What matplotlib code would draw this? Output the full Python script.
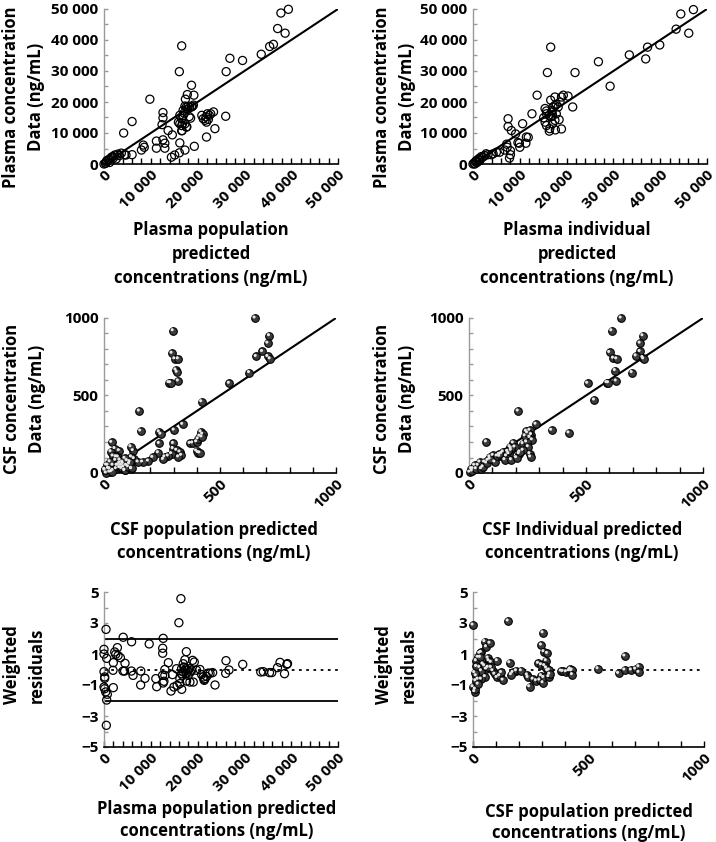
import matplotlib
matplotlib.use("Agg")
import matplotlib.pyplot as plt
from matplotlib.ticker import MultipleLocator, FixedLocator, FuncFormatter
from matplotlib.transforms import offset_copy

plt.rcParams['font.family'] = ['Open Sans', 'DejaVu Sans']
plt.rcParams['font.weight'] = 'bold'

# plasma: population predicted vs observed
pl_pred = [39400, 37800, 37100, 38700, 36200, 35400, 33600, 29600, 26900, 26100, 26000, 23700, 21900, 19300,
           16600, 16100, 18700, 19200, 17800, 17400, 9800, 6000, 4200, 12600, 12600, 12400, 13700, 14600,
           11200, 11200, 12600, 13000, 13000, 16200, 17300, 16100, 15100, 14400, 8600, 8000, 6000, 8400, 4700,
           16200, 16600, 16900, 17300, 17600, 18000, 18300, 18700, 18900, 17300, 17600, 16700, 16600, 18500,
           15900, 16200, 16900, 17100, 17800, 19100, 18200, 16800, 16600, 17700,
           20900, 21600, 21800, 22100, 22500, 22800, 23400, 21200, 21900, 22300,
           0, 400, 500, 900, 1200, 1600, 1900, 2300, 3000, 3700, 4400, 2600, 1200, 600, 300, 2000, 3300]
pl_obs = [49900, 48700, 43700, 42200, 38600, 37900, 35400, 33400, 34100, 29800, 15400, 11400, 8700, 5700,
          38100, 29800, 25400, 22200, 22400, 20900, 20900, 13700, 10000, 16600, 14900, 12700, 10800, 9400,
          7400, 5100, 7800, 6700, 5100, 6800, 4500, 3600, 2900, 2200, 5400, 4500, 3000, 6100, 2900,
          15700, 14600, 17300, 18700, 18400, 18600, 18200, 18400, 18600, 13000, 11900, 10800, 12400, 14800,
          13500, 13000, 15700, 16400, 17600, 19000, 15300, 13100, 10700, 12000,
          15700, 14100, 15200, 16200, 15700, 16200, 16800, 14600, 13500, 14400,
          0, 300, 700, 1300, 1600, 2200, 2400, 2900, 3200, 3500, 3000, 1600, 500, 1100, 200, 1900, 2700]

# plasma: individual predicted vs observed
pi_pred = [47100, 44400, 43400, 46100, 39900, 37300, 36900, 33400, 29300, 26800, 21800, 21300, 16600, 15900,
           13700, 12600, 10600, 7500, 7500, 8200, 9100, 9900, 11400, 11300, 10000, 8000, 8000, 7800, 7300,
           7200, 11800, 9600, 6800,
           15400, 15700, 16300, 16600, 16900, 17100, 17500, 17800, 18200, 18600, 18900, 19300, 17500, 16600,
           17500, 17000, 16400, 15700, 16300, 17600, 18400, 15100, 15400, 15700, 17000, 16900, 17800, 18900,
           20300, 16700,
           0, 200, 500, 700, 1100, 1400, 1800, 2500, 3200, 3900, 5000, 5700, 4300, 2100, 900, 400, 1500, 2800]
pi_obs = [49800, 48400, 43500, 42200, 38400, 37700, 33900, 35200, 25100, 33000, 29500, 18400, 37700, 29500,
          22200, 16200, 13000, 14600, 12100, 10800, 9700, 6700, 8700, 6700, 5400, 4300, 3000, 1900, 5400,
          6400, 8600, 6900, 4500,
          17900, 17100, 15700, 15200, 17300, 18400, 18900, 19200, 18400, 20000, 21600, 22200, 21600, 20600,
          14100, 13000, 11400, 12400, 10600, 11000, 14300, 14900, 13500, 16200, 15700, 16800, 16200, 11300,
          21900, 15300,
          0, 300, 700, 1100, 1500, 1900, 2400, 2700, 3000, 3000, 3800, 3800, 3300, 2200, 500, 0, 1200, 3300]

# CSF: population predicted vs observed
cp_pred = [651, 713, 706, 683, 656, 706, 716, 627, 540, 421, 298, 293, 305, 320, 310, 315, 320, 280, 287,
           152, 158, 238, 238, 234, 245, 302, 339, 299, 298, 313, 291, 277, 262, 256, 327, 334, 321,
           371, 382, 399, 406, 413, 418, 425, 422, 399, 406, 413, 210, 191, 166, 147, 130, 126, 116, 118,
           118, 89, 97, 68, 66, 47, 33, 30, 39, 61, 50, 56, 39, 17, 3, 25, 10, 39, 53, 68, 75, 25, 80,
           100, 110, 85, 11, 19, 4, 33, 62, 76, 90, 69, 52, 26, 83, 105, 119, 112, 90]
cp_obs = [1000, 886, 838, 784, 752, 752, 737, 648, 579, 460, 918, 773, 737, 737, 665, 650, 594, 583, 583,
          400, 271, 266, 191, 131, 251, 277, 314, 191, 158, 147, 125, 110, 104, 88, 136, 114, 104,
          191, 194, 201, 220, 238, 266, 251, 233, 142, 132, 130, 101, 77, 71, 71, 93, 144, 170, 104,
          28, 17, 50, 65, 144, 158, 198, 138, 110, 104, 82, 50, 50, 50, 24, 6, 0, 17, 28, 35, 50, 28, 70,
          80, 60, 40, 52, 30, 19, 9, 52, 30, 19, 84, 105, 73, 62, 41, 30, 73, 95]

# CSF: individual predicted vs observed
ci_pred = [650, 610, 743, 731, 601, 731, 714, 617, 631, 743, 746, 625, 697, 589, 596, 629, 507, 536, 353,
           427, 210, 74, 286, 260, 267, 260, 270, 231, 246, 253, 260, 263, 231, 214, 189, 196, 181, 170,
           160, 146, 139, 131, 153, 181, 203, 217, 103, 89, 81, 110, 67, 46, 39, 24, 17, 10, 3, 14, 31, 53,
           60, 75, 90, 120, 130, 175, 180, 165, 240, 245, 250]
ci_obs = [1000, 918, 886, 838, 778, 784, 756, 741, 737, 745, 737, 661, 648, 583, 583, 594, 579, 471, 276,
          259, 400, 201, 315, 276, 248, 230, 214, 190, 201, 170, 125, 104, 147, 125, 194, 168, 147, 125,
          110, 136, 125, 108, 86, 86, 99, 136, 114, 104, 82, 71, 71, 71, 50, 50, 28, 28, 6, 13, 28, 28,
          40, 65, 90, 110, 120, 170, 160, 140, 240, 270, 260]

# weighted residuals, plasma
wp_pred = [16430, 16000, 430, 4100, 12650, 5890, 9660, 2860, 0, 12540, 12540, 17600, 2290, 2500, 3000, 0,
           570, 3500, 1990, 4490, 1930, 4400, 4070, 5860, 6210, 7860, 8760, 7830, 11070, 11260, 12640, 12800,
           13000, 12500, 13000, 13750, 14640, 14320, 14930, 15640, 15500,
           16210, 16570, 16790, 16930, 17070, 17290, 17500, 17640, 17790, 18000, 18200, 18500, 18700, 17290,
           16930, 16570, 16210, 16600, 17640, 18360, 19070, 18930, 19290, 19790,
           20500, 20860, 21210, 21360, 21570, 21930, 22290, 22650, 23210, 21430, 23720, 26070, 26000, 26710,
           29640, 33500, 34050, 35360, 35840, 37070, 37610, 38570, 39210, 39070,
           0, 140, 0, 140, 360, 710, 570, 1990, 500, 140]
wp_res = [4.57, 3.02, 2.59, 2.08, 2.01, 1.79, 1.65, 1.41, 1.30, 1.37, 1.05, 1.15, 1.13, 0.98, 0.90, 1.0,
          0.72, 0.76, 0.44, 0.40, -0.05, -0.10, -0.10, -0.10, -0.38, -0.10, -0.57, -1.0, -0.59, -1.11, -0.87,
          -0.76, -0.38, -0.38, 0.0, 0.44, -0.33, -1.39, -1.13, -1.02, 0.05,
          -0.59, -0.27, -0.38, -0.16, 0.16, -0.05, 0.05, -0.23, -0.05, -0.38, 0.05, -0.16, -0.05, 0.63,
          0.37, 0.05, -0.91, -1.28, -0.75, -0.81, -0.81, 0.59, 0.48, -0.05,
          0.0, -0.33, -0.48, -0.63, -0.59, -0.45, -0.23, -0.25, -0.20, -0.70, -1.0, 0.57, -0.25, -0.03,
          0.33, -0.16, -0.14, -0.20, -0.20, 0.12, 0.46, -0.27, 0.38, 0.33,
          -0.14, -0.57, -1.13, -1.24, -1.45, -1.60, -1.97, -1.17, -3.60, -0.48]

# weighted residuals, CSF
wc_pred = [0, 152, 303, 296, 307, 322, 51, 58, 73, 36, 29, 22, 14, 32, 65, 69, 79, 105, 159, 317, 283,
           296, 310, 318, 323, 330, 541, 657, 630, 657, 685, 704, 718, 718, 382, 390, 404, 416, 421, 426,
           429, 430, 188, 209, 173, 166, 235, 238, 245, 260, 274, 289, 303, 296, 306, 328, 332, 86, 94, 104,
           115, 130, 123, 79, 53, 36, 22, 14, 12, 0, 7, 10, 22, 29, 43, 58, 36, 50, 65, 7, 15]
wc_res = [2.87, 3.13, 2.37, 1.58, 1.15, 1.04, 1.80, 1.47, 1.70, 1.11, 1.05, 0.79, 0.57, 0.79, 0.74, 0.57,
          0.47, 0.57, 0.44, 0.57, 0.40, 0.31, 0.25, 0.10, -0.08, -0.03, 0.05, 0.87, -0.25, -0.03, -0.03,
          0.03, 0.18, -0.18, -0.10, -0.12, -0.14, -0.08, 0.03, -0.08, -0.03, -0.33, -0.08, -0.08, -0.19,
          -0.33, -0.35, -0.51, -1.11, -0.62, -0.72, -0.68, -0.85, -0.40, -0.51, -0.46, -0.30, -0.08, -0.30,
          -0.51, -0.40, -0.68, -0.19, 0.14, -0.46, -0.62, -0.62, -0.40, -0.72, -1.11, -1.43, -1.26, -0.94,
          0.14, 0.36, 0.03, -0.08, 0.25, 0.14, -0.2, 0.2]


fig = plt.figure(figsize=(7.16, 8.42), dpi=100)
W, H = 716.0, 842.0


def make_axes(left, top, right, bottom):
	return fig.add_axes([left / W, 1 - bottom / H, (right - left) / W, (bottom - top) / H])


def thousands(v, pos):
	v = int(round(v))
	s = str(abs(v))
	if abs(v) >= 10000:
		s = f'{abs(v):,}'.replace(',', ' ')
	return ('\u2212' + s) if v < 0 else s


def style(ax, xmax, xmajor, xminor, ylim, yticks, yminor):
	ax.set_xlim(0, xmax)
	ax.set_ylim(*ylim)
	for s in ['top', 'right']:
		ax.spines[s].set_visible(False)
	ax.spines['left'].set_color('#9a9a9a')
	ax.spines['left'].set_linewidth(1.0)
	ax.spines['bottom'].set_linewidth(1.2)
	ax.xaxis.set_major_locator(MultipleLocator(xmajor))
	ax.xaxis.set_minor_locator(MultipleLocator(xminor))
	ax.yaxis.set_major_locator(FixedLocator(yticks))
	ax.yaxis.set_minor_locator(MultipleLocator(yminor))
	ax.xaxis.set_major_formatter(FuncFormatter(thousands))
	ax.yaxis.set_major_formatter(FuncFormatter(thousands))
	ax.tick_params(axis='x', which='both', direction='in', length=4, width=1, colors='black', pad=3)
	ax.tick_params(axis='y', which='both', direction='in', length=3, width=1, color='#9a9a9a', pad=4)
	ax.tick_params(axis='y', labelcolor='black')
	for lab in ax.get_xticklabels() + ax.get_yticklabels():
		lab.set_fontsize(11)
		lab.set_fontweight('bold')
	for lab in ax.get_xticklabels():
		lab.set_rotation(45)
		lab.set_ha('right')
		lab.set_va('top')
		lab.set_rotation_mode('anchor')


def open_pts(ax, x, y):
	ax.scatter(x, y, s=34, facecolors='none', edgecolors='black', linewidths=0.9, clip_on=False, zorder=3)


def ball_pts(ax, x, y):
	ax.scatter(x, y, s=30, c='#3c3c3c', edgecolors='black', linewidths=0.8, clip_on=False, zorder=3)
	hl = offset_copy(ax.transData, fig=fig, x=-1.0, y=1.0, units='dots')
	ax.scatter(x, y, s=5, c='#e8e8e8', edgecolors='none', transform=hl, clip_on=False, zorder=4)


def labels(ax, ylab, yx, yy, xlab, xx, xy, xls=1.35):
	ax.set_ylabel(ylab, fontsize=12, fontweight='bold', linespacing=1.5)
	ax.yaxis.set_label_coords(yx, yy)
	ax.set_xlabel(xlab, fontsize=12, fontweight='bold', linespacing=xls)
	ax.xaxis.set_label_coords(xx, xy)


# row 1
ax1 = make_axes(104, 9, 338, 164)
style(ax1, 50000, 10000, 2000, (0, 50000), [0, 10000, 20000, 30000, 40000, 50000], 5000)
ax1.plot([0, 50000], [0, 50000], color='black', lw=1.5)
open_pts(ax1, pl_pred, pl_obs)
labels(ax1, 'Plasma concentration\nData (ng/mL)', -0.252, 0.43,
       'Plasma population\npredicted\nconcentrations (ng/mL)', 0.457, -0.37, 1.4)

ax2 = make_axes(473, 9, 707, 164)
style(ax2, 50000, 10000, 2000, (0, 50000), [0, 10000, 20000, 30000, 40000, 50000], 5000)
ax2.plot([0, 50000], [0, 50000], color='black', lw=1.5)
open_pts(ax2, pi_pred, pi_obs)
labels(ax2, 'Plasma concentration\nData (ng/mL)', -0.243, 0.43,
       'Plasma individual\npredicted\nconcentrations (ng/mL)', 0.444, -0.37, 1.4)

# row 2
ax3 = make_axes(104, 318, 336, 473)
style(ax3, 1000, 500, 100, (0, 1000), [0, 500, 1000], 100)
ax3.plot([0, 1000], [0, 1000], color='black', lw=1.5)
ball_pts(ax3, cp_pred, cp_obs)
labels(ax3, 'CSF concentration\nData (ng/mL)', -0.252, 0.48,
       'CSF population predicted\nconcentrations (ng/mL)', 0.474, -0.31)

ax4 = make_axes(469, 318, 703, 473)
style(ax4, 1000, 500, 100, (0, 1000), [0, 500, 1000], 100)
ax4.plot([0, 1000], [0, 1000], color='black', lw=1.5)
ball_pts(ax4, ci_pred, ci_obs)
labels(ax4, 'CSF concentration\nData (ng/mL)', -0.227, 0.48,
       'CSF Individual predicted\nconcentrations (ng/mL)', 0.483, -0.31)

# row 3
ax5 = make_axes(104, 592, 338, 747)
style(ax5, 50000, 10000, 2000, (-5, 5), [-5, -3, -1, 1, 3, 5], 1)
ax5.axhline(2, color='black', lw=1.3)
ax5.axhline(-2, color='black', lw=1.3)
ax5.axhline(0, color='black', lw=1.3, ls=(0, (1.5, 2.5)))
open_pts(ax5, wp_pred, wp_res)
labels(ax5, 'Weighted\nresiduals', -0.25, 0.53,
       'Plasma population predicted\nconcentrations (ng/mL)', 0.483, -0.345, 1.25)

ax6 = make_axes(473, 592, 704, 747)
style(ax6, 1000, 500, 100, (-5, 5), [-5, -3, -1, 1, 3, 5], 1)
ax6.axhline(0, color='black', lw=1.3, ls=(0, (1.5, 2.5)))
ball_pts(ax6, wc_pred, wc_res)
labels(ax6, 'Weighted\nresiduals', -0.24, 0.53,
       'CSF population predicted\nconcentrations (ng/mL)', 0.5, -0.36, 1.25)

fig.savefig('out.png', dpi=100)
